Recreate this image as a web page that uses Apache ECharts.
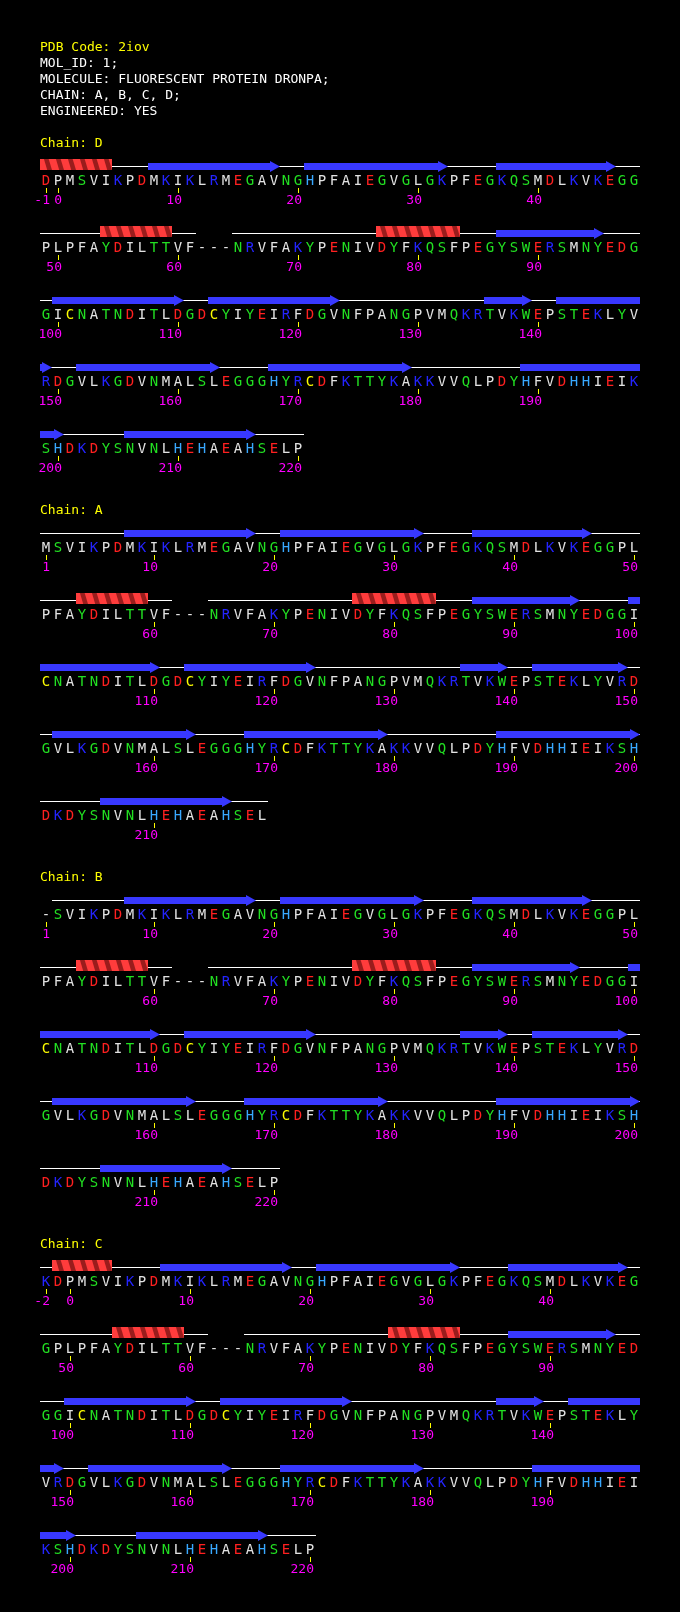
<!DOCTYPE html>
<html><head><meta charset="utf-8">
<script src="https://cdn.jsdelivr.net/npm/echarts@6/dist/echarts.min.js"></script>
<style>html,body{margin:0;padding:0;background:#000;}#c{width:680px;height:1612px;}</style>
</head><body><div id="c"></div>
<script>
// ---------------- data ----------------
const headerLines = ['PDB Code: 2iov', 'MOL_ID: 1;', 'MOLECULE: FLUORESCENT PROTEIN DRONPA;', 'CHAIN: A, B, C, D;', 'ENGINEERED: YES'];
const headerIsTitle = [true, false, false, false, false];

const chainNames = ['D', 'A', 'B', 'C'];
const chainStarts = [-1, 1, 1, -2];

const seqD = 'DPMSVIKPDMKIKLRMEGAVNGHPFAIEGVGLGKPFEGKQSMDLKVKEGG' +
             'PLPFAYDILTTVF---NRVFAKYPENIVDYFKQSFPEGYSWERSMNYEDG' +
             'GICNATNDITLDGDCYIYEIRFDGVNFPANGPVMQKRTVKWEPSTEKLYV' +
             'RDGVLKGDVNMALSLEGGGHYRCDFKTTYKAKKVVQLPDYHFVDHHIEIK' +
             'SHDKDYSNVNLHEHAEAHSELP';
const seqA = 'MSVIKPDMKIKLRMEGAVNGHPFAIEGVGLGKPFEGKQSMDLKVKEGGPL' +
             'PFAYDILTTVF---NRVFAKYPENIVDYFKQSFPEGYSWERSMNYEDGGI' +
             'CNATNDITLDGDCYIYEIRFDGVNFPANGPVMQKRTVKWEPSTEKLYVRD' +
             'GVLKGDVNMALSLEGGGHYRCDFKTTYKAKKVVQLPDYHFVDHHIEIKSH' +
             'DKDYSNVNLHEHAEAHSEL';
const seqB = '-SVIKPDMKIKLRMEGAVNGHPFAIEGVGLGKPFEGKQSMDLKVKEGGPL' +
             'PFAYDILTTVF---NRVFAKYPENIVDYFKQSFPEGYSWERSMNYEDGGI' +
             'CNATNDITLDGDCYIYEIRFDGVNFPANGPVMQKRTVKWEPSTEKLYVRD' +
             'GVLKGDVNMALSLEGGGHYRCDFKTTYKAKKVVQLPDYHFVDHHIEIKSH' +
             'DKDYSNVNLHEHAEAHSELP';
const seqC = 'KDPMSVIKPDMKIKLRMEGAVNGHPFAIEGVGLGKPFEGKQSMDLKVKEG' +
             'GPLPFAYDILTTVF---NRVFAKYPENIVDYFKQSFPEGYSWERSMNYED' +
             'GGICNATNDITLDGDCYIYEIRFDGVNFPANGPVMQKRTVKWEPSTEKLY' +
             'VRDGVLKGDVNMALSLEGGGHYRCDFKTTYKAKKVVQLPDYHFVDHHIEI' +
             'KSHDKDYSNVNLHEHAEAHSELP';
const chainSeqs = [seqD, seqA, seqB, seqC];

// secondary structure, in residue numbers [first, last]
const helicesD = [[-1, 4], [54, 59], [77, 83]];
const helicesA = [[54, 59], [77, 83]];
const helicesB = [[54, 59], [77, 83]];
const helicesC = [[-1, 3], [54, 59], [77, 82]];
const chainHelices = [helicesD, helicesA, helicesB, helicesC];

const strandsD = [[8,18],[21,32],[37,46],[87,95],[100,110],[113,123],[136,139],[142,149],[152,163],[168,179],[189,200],[206,216]];
const strandsA = [[8,18],[21,32],[37,46],[87,95],[100,110],[113,123],[136,139],[142,149],[152,163],[168,179],[189,200],[206,216]];
const strandsB = [[8,18],[21,32],[37,46],[87,95],[100,110],[113,123],[136,139],[142,149],[152,163],[168,179],[189,200],[206,216]];
const strandsC = [[8,18],[21,32],[37,46],[87,95],[100,110],[113,123],[136,139],[142,149],[152,163],[168,179],[189,200],[206,216]];
const chainStrands = [strandsD, strandsA, strandsB, strandsC];

// ---------------- style / layout ----------------
const FONT = '13px "DejaVu Sans Mono", "Liberation Mono", monospace';
const RES_FONT = '14px "DejaVu Sans Mono", "Liberation Mono", monospace';
const ROW_LEN = 50;
const LAYOUT = { headerY: 48, headerStep: 16, chainY: 144, chainStep: 367, ssOff: 22, rowStep: 67,
                 letterOff: 15, tickTop: 22, tickBot: 27, numOff: 35 };
const COLORS = { title: '#ffff00', header: '#ffffff', number: '#ff00ff', tick: '#ffff00',
                 line: '#ffffff', strand: '#3838ff', helix: '#ff3c3c', helixDark: '#9a1c1c' };
const RES_COLORS = { D:'#ff2020', E:'#ff2020', K:'#2424ff', R:'#2424ff', H:'#38a8ff',
                     S:'#22e022', T:'#22e022', N:'#22e022', Q:'#22e022', G:'#22e022', Y:'#22e022', W:'#22e022',
                     C:'#ffff00' };
const resColor = ch => RES_COLORS[ch] || '#e2e2e2';

// ---------------- build marks ----------------
const texts = [], ticks = [], lines = [], helixSegs = [], strandSegs = [];

headerLines.forEach((t, i) => {
  texts.push({ x: 0, y: LAYOUT.headerY + i * LAYOUT.headerStep, t, c: headerIsTitle[i] ? COLORS.title : COLORS.header, a: 'left', f: FONT });
});

function addSegments(elements, start, rowFirst, rowLast, y, out) {
  elements.forEach(([s, e]) => {
    const is = s - start, ie = e - start;
    const a = Math.max(is, rowFirst), b = Math.min(ie, rowLast);
    if (a <= b) out.push({ c0: a - rowFirst, c1: b - rowFirst, y, head: ie <= rowLast });
  });
}

chainNames.forEach((name, c) => {
  const titleY = LAYOUT.chainY + c * LAYOUT.chainStep;
  texts.push({ x: 0, y: titleY, t: 'Chain: ' + name, c: COLORS.title, a: 'left', f: FONT });
  const seq = chainSeqs[c], start = chainStarts[c];
  const nRows = Math.ceil(seq.length / ROW_LEN);
  for (let r = 0; r < nRows; r++) {
    const ssY = titleY + LAYOUT.ssOff + r * LAYOUT.rowStep;
    const rowFirst = r * ROW_LEN, rowLast = Math.min(seq.length, rowFirst + ROW_LEN) - 1;
    let runStart = -1;
    for (let i = rowFirst; i <= rowLast; i++) {
      const ch = seq[i], col = i - rowFirst, res = start + i;
      texts.push({ x: col + 0.5, y: ssY + LAYOUT.letterOff, t: ch, c: resColor(ch), a: 'center', f: RES_FONT });
      if (res % 10 === 0 || i === 0) {
        ticks.push({ x: col + 0.5, y: ssY });
        texts.push({ x: col + 0.5, y: ssY + LAYOUT.numOff, t: String(res), c: COLORS.number, a: 'right', dx: 4, f: FONT });
      }
      if (ch !== '-' && runStart < 0) runStart = col;
      if ((ch === '-' || i === rowLast) && runStart >= 0) {
        const endCol = ch === '-' ? col - 1 : col;
        lines.push({ c0: runStart, c1: endCol, y: ssY });
        runStart = -1;
      }
    }
    addSegments(chainHelices[c], start, rowFirst, rowLast, ssY, helixSegs);
    addSegments(chainStrands[c], start, rowFirst, rowLast, ssY, strandSegs);
  }
});

// ---------------- chart ----------------
const chart = echarts.init(document.getElementById('c'), null, { renderer: 'canvas' });

function customSeries(name, items, z, render) {
  return { type: 'custom', name, z, silent: true, clip: false,
           encode: { x: 0, y: 1 },
           data: items.map(d => [d.x !== undefined ? d.x : d.c0, d.y]),
           renderItem: (params, api) => render(items[params.dataIndex], api) };
}

const option = {
  backgroundColor: '#000000',
  animation: false,
  grid: { left: 40, right: 40, top: 0, bottom: 0 },
  xAxis: { type: 'value', min: 0, max: ROW_LEN, show: false },
  yAxis: { type: 'value', min: 0, max: 1612, inverse: true, show: false },
  series: [
    customSeries('backbone', lines, 1, (d, api) => {
      const a = api.coord([d.c0, d.y]), b = api.coord([d.c1 + 1, d.y]);
      const y = Math.round(a[1]) + 0.5;
      return { type: 'line', shape: { x1: a[0], y1: y, x2: b[0], y2: y }, style: { stroke: COLORS.line, lineWidth: 1 } };
    }),
    customSeries('helix', helixSegs, 2, (d, api) => {
      const a = api.coord([d.c0, d.y]), b = api.coord([d.c1 + 1, d.y]);
      const y0 = Math.round(a[1]);
      const top = y0 - 7, bot = y0 + 4;
      const cw = (b[0] - a[0]) / (d.c1 - d.c0 + 1);
      const children = [{ type: 'rect', shape: { x: a[0], y: top, width: b[0] - a[0], height: bot - top }, style: { fill: COLORS.helix } }];
      for (let k = 0; k <= d.c1 - d.c0; k++) {
        const xa = a[0] + k * cw;
        children.push({ type: 'polygon', shape: { points: [[xa + cw * 0.33, top], [xa + cw * 0.72, top], [xa + cw, bot], [xa + cw * 0.6, bot]] },
                        style: { fill: COLORS.helixDark } });
      }
      return { type: 'group', children };
    }),
    customSeries('strand', strandSegs, 3, (d, api) => {
      const a = api.coord([d.c0, d.y]), b = api.coord([d.c1 + 1, d.y]);
      const y = Math.round(a[1]), x0 = a[0], x1 = b[0], hl = 10;
      const bt = y - 3, bb = y + 4, ht = y - 5, hb = y + 6, ym = y + 0.5;
      let pts;
      if (d.head) {
        const xh = Math.max(x0, x1 - hl);
        pts = [[x0, bt], [xh, bt], [xh, ht], [x1, ym], [xh, hb], [xh, bb], [x0, bb]];
      } else {
        pts = [[x0, bt], [x1, bt], [x1, bb], [x0, bb]];
      }
      return { type: 'polygon', shape: { points: pts }, style: { fill: COLORS.strand } };
    }),
    customSeries('ticks', ticks, 4, (d, api) => {
      const p = api.coord([d.x, d.y + LAYOUT.tickTop]), q = api.coord([d.x, d.y + LAYOUT.tickBot]);
      const x = Math.round(p[0]) + 0.5;
      return { type: 'line', shape: { x1: x, y1: p[1], x2: x, y2: q[1] }, style: { stroke: COLORS.tick, lineWidth: 1 } };
    }),
    customSeries('texts', texts, 5, (d, api) => {
      const p = api.coord([d.x, d.y]);
      return { type: 'text', x: p[0] + (d.dx || 0), y: p[1],
               style: { text: d.t, fill: d.c, font: d.f, textAlign: d.a, textVerticalAlign: 'middle' } };
    })
  ]
};
chart.setOption(option);
</script></body></html>
